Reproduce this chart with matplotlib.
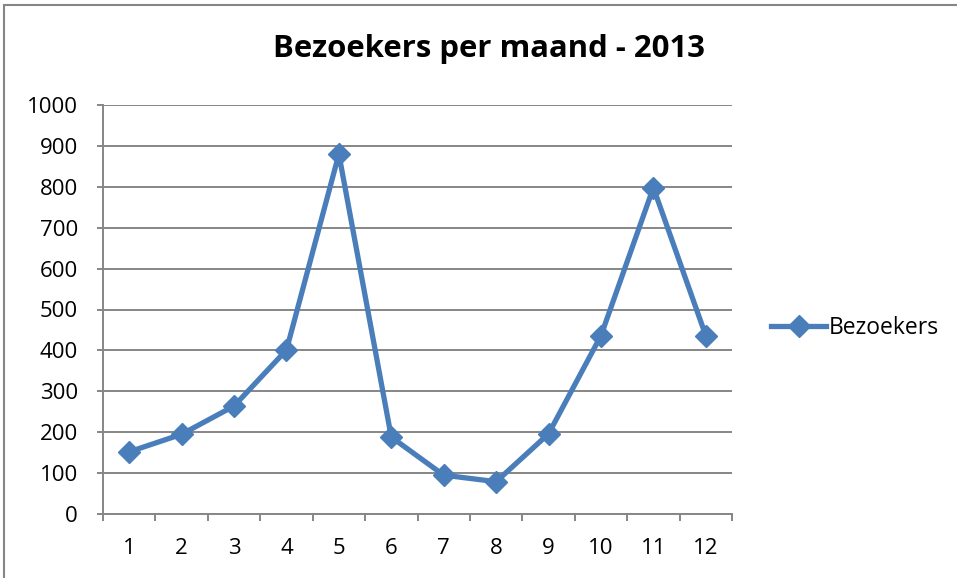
import matplotlib
matplotlib.use("Agg")
import matplotlib.pyplot as plt
from matplotlib.patches import Rectangle
from matplotlib.ticker import FixedLocator

months = [1, 2, 3, 4, 5, 6, 7, 8, 9, 10, 11, 12]
visitors = [152, 195, 264, 401, 880, 188, 95, 79, 196, 436, 798, 436]
series_name = "Bezoekers"
title = "Bezoekers per maand - 2013"
yticks = [0, 100, 200, 300, 400, 500, 600, 700, 800, 900, 1000]

plt.rcParams['font.family'] = ['Open Sans', 'DejaVu Sans']

W, H = 957, 578
fig = plt.figure(figsize=(W / 100, H / 100), dpi=100)
ax = fig.add_axes([103 / W, 1 - 514 / H, (732 - 103) / W, (514 - 105) / H])

blue = '#4A7EBB'
grey = '#868686'

line, = ax.plot(months, visitors, color=blue, lw=3.8, marker='D', markersize=11,
                markerfacecolor=blue, markeredgecolor=blue, markeredgewidth=1,
                label=series_name, solid_joinstyle='miter', zorder=3)

ax.set_xlim(0.5, 12.5)
ax.set_ylim(0, 1000)
ax.set_yticks(yticks)
ax.set_xticks(months)
ax.set_xticklabels([str(m) for m in months])
ax.xaxis.set_minor_locator(FixedLocator([m - 0.5 for m in months] + [12.5]))

ax.grid(axis='y', color=grey, lw=1.4)
ax.set_axisbelow(True)
for s in ['top', 'right']:
    ax.spines[s].set_visible(False)
for s in ['left', 'bottom']:
    ax.spines[s].set_color(grey)
    ax.spines[s].set_linewidth(1.4)

ax.tick_params(axis='y', length=4, width=1.4, color=grey, pad=14, labelsize=16)
ax.tick_params(axis='x', which='major', length=0, pad=17, labelsize=16)
ax.tick_params(axis='x', which='minor', length=5, width=1.4, color=grey)

fig.text(489 / W, 1 - 49 / H, title, ha='center', va='center',
         fontsize=22.4, fontweight='bold')

leg = fig.legend(handles=[line], loc='center left',
                 bbox_to_anchor=(771 / W, 1 - 328 / H), frameon=False,
                 fontsize=16.5, handlelength=2.4, handletextpad=0.1,
                 borderaxespad=0, borderpad=0)

border = Rectangle((4 / W, -0.1), 1.2, 1 - 5 / H + 0.1, transform=fig.transFigure,
                   fill=False, edgecolor=grey, lw=1.5)
fig.patches.append(border)

fig.savefig('out.png', dpi=100)
